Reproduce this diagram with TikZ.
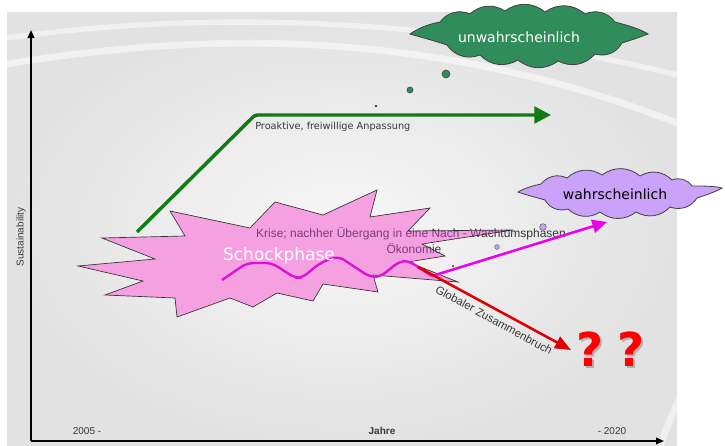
\documentclass[tikz,border=0pt]{standalone}
\usepackage{fontspec}
\setmainfont{Liberation Sans}
\newfontfamily\softsans{DejaVu Sans}
\usetikzlibrary{arrows.meta}

\definecolor{bggray}{RGB}{226,226,226}
\definecolor{arrowgreen}{RGB}{18,122,18}
\definecolor{cloudgreen}{RGB}{48,140,90}
\definecolor{cloudlav}{RGB}{202,162,250}
\definecolor{burstpink}{RGB}{245,160,225}
\definecolor{wavemag}{RGB}{220,20,210}
\definecolor{arrowmag}{RGB}{235,0,235}
\definecolor{arrowred}{RGB}{222,0,0}
\definecolor{labelgray}{RGB}{55,55,55}
\definecolor{labelpurple}{RGB}{125,60,125}

\begin{document}
\begin{tikzpicture}[x=0.75pt,y=-0.75pt,
  axisline/.style={line width=1.3pt,-{Triangle[length=6pt,width=5pt]}},
  axislabel/.style={text=labelgray,inner sep=0pt,font=\fontsize{7.5}{9}\selectfont},
  pathlabel/.style={text=labelgray,inner sep=0pt,font=\fontsize{8.5}{10}\selectfont},
  crisislabel/.style={inner sep=0pt,font=\fontsize{9}{10}\selectfont},
  cloudedge/.style={draw=black!75,line width=0.6pt},
  puff/.style={bend left=38},
  bubble/.style={circle,inner sep=0pt,line width=0.5pt},
  greenpath/.style={draw=arrowgreen,line width=2.6pt,rounded corners=2pt,
    -{Triangle[length=12.5pt,width=12.5pt]}},
  wavepath/.style={draw=wavemag,line width=1.8pt,rounded corners=5pt},
  magpath/.style={draw=arrowmag,line width=1.9pt,-{Triangle[length=11pt,width=10pt]}},
  redpath/.style={draw=arrowred,line width=1.9pt,-{Triangle[length=12pt,width=9.5pt]}},
  qmark/.style={inner sep=0pt,font=\softsans\bfseries\fontsize{35}{37}\selectfont}
]
\useasboundingbox (0,0) rectangle (725,446);

% backdrop
\fill[white] (0,0) rectangle (725,446);
\shade[inner color=white!97!black,outer color=bggray] (7,12) rectangle (677,446);
\begin{scope}
  \clip (7,12) rectangle (677,446);
  \draw[white,line width=5pt,opacity=0.55] (7,64) .. controls (250,24) and (470,40) .. (690,128);
  \draw[white,line width=4pt,opacity=0.5] (7,38) .. controls (220,8) and (460,20) .. (690,78);
  \draw[white,line width=5pt,opacity=0.5] (690,380) .. controls (675,405) and (668,425) .. (660,446);
\end{scope}

% axes
\coordinate (origin) at (31,441);
\coordinate (ytop) at (31,30);
\coordinate (xend) at (664,441);
\draw[axisline] (origin) -- (ytop);
\draw[axisline] (origin) -- (xend);
\node[axislabel,rotate=90] (ylab) at (21,237) {Sustainability};
\node[axislabel] (start) at (87,431) {2005 -};
\node[axislabel,font=\bfseries\fontsize{7.5}{9}\selectfont] (years) at (382,431) {Jahre};
\node[axislabel] (finish) at (612,431) {- 2020};

% proactive path
\coordinate (g0) at (137,232);
\coordinate (g1) at (255,115);
\coordinate (g2) at (551,115);
\draw[greenpath] (g0) -- (g1) -- (g2);
\node[text=labelgray,inner sep=0pt,font=\softsans\fontsize{7.3}{9}\selectfont,anchor=west] (proact) at (255,127) {Proaktive, freiwillige Anpassung};

% unlikely cloud with pointed ends, and its thought bubbles
\path[cloudedge,fill=cloudgreen] (410,34) .. controls (420,27) and (430,24) .. (440,22)
  to[puff] (470,14) to[puff] (505,11) to[puff] (545,12) to[puff] (585,14) to[puff] (615,22)
  .. controls (630,26) and (640,29) .. (648,34) .. controls (640,37) and (632,40) .. (622,43)
  to[puff] (595,54) to[puff] (558,61) to[puff] (518,60) to[puff] (480,55) to[puff] (447,45)
  .. controls (432,40) and (420,37) .. (410,34) -- cycle;
\node[text=white,font=\softsans\fontsize{10.5}{12}\selectfont] (unlikely) at (519,37) {unwahrscheinlich};
\node[bubble,draw=black!70,fill=cloudgreen,minimum size=6pt] (ub1) at (446,74) {};
\node[bubble,draw=black!70,fill=cloudgreen,minimum size=4.5pt] (ub2) at (410,90) {};
\node[bubble,fill=black!75,minimum size=2.2pt] (ub3) at (376,106) {};

% crisis description, partly covered by the burst
\node[crisislabel,text=labelgray] (crisis) at (411,234) {Krise; nachher Übergang in eine Nach - Wachtumsphasen};
\node[crisislabel,text=labelgray] (economy) at (414,249) {Ökonomie};

% shock burst
\def\burstoutline{(78,266) -- (155,259) -- (102,238) -- (185,236) -- (170,211)
  -- (250,228) -- (275,202) -- (323,215) -- (377,190) -- (370,217) -- (430,208)
  -- (408,231) -- (513,230) -- (422,244) -- (445,256) -- (408,262) -- (458,282)
  -- (373,275) -- (378,292) -- (323,284) -- (313,301) -- (277,293) -- (253,307)
  -- (230,298) -- (177,317) -- (175,298) -- (105,295) -- (143,281) -- cycle}
\fill[burstpink] \burstoutline;
\begin{scope}
  \clip \burstoutline;
  \node[crisislabel,text=labelpurple] (crisisin) at (411,234) {Krise; nachher Übergang in eine Nach - Wachtumsphasen};
  \node[crisislabel,text=labelpurple] (economyin) at (414,249) {Ökonomie};
\end{scope}
\draw[black!80,line width=0.5pt,line join=miter] \burstoutline;

% oscillating crisis line
\coordinate (w0) at (222,280);
\coordinate (w1) at (247,263);
\coordinate (w2) at (272,263);
\coordinate (w3) at (295,278);
\coordinate (w4) at (302,278);
\coordinate (w5) at (320,263);
\coordinate (w6) at (338,256);
\coordinate (w7) at (370,277);
\coordinate (w8) at (380,277);
\coordinate (w9) at (400,261);
\coordinate (w10) at (409,261);
\coordinate (w11) at (432,276);
\draw[wavepath] (w0) -- (w1) -- (w2) -- (w3) -- (w4) -- (w5) -- (w6) -- (w7) -- (w8) -- (w9) -- (w10) -- (w11);
\node[text=white,inner sep=0pt,font=\softsans\fontsize{12.75}{14}\selectfont] (shock) at (279,256) {Schockphase};

% likely path
\coordinate (m1) at (607,222);
\draw[magpath] (w11) -- (m1);

% collapse path
\coordinate (r0) at (418,267);
\coordinate (r1) at (571,350);
\draw[redpath] (r0) -- (r1);
\node[pathlabel,rotate=-28.5] (collapse) at (494,320) {Globaler Zusammenbruch};

% likely cloud with pointed ends, and its thought bubbles
\path[cloudedge,fill=cloudlav] (518,192) .. controls (525,188) and (532,186) .. (541,184)
  to[puff] (567,178) to[puff] (602,175) to[puff] (640,176) to[puff] (672,180) to[puff] (692,186)
  .. controls (704,186) and (714,186) .. (722,188) .. controls (715,192) and (706,195) .. (697,198)
  to[puff] (670,207) to[puff] (636,212) to[puff] (600,212) to[puff] (568,209) to[puff] (545,200)
  .. controls (535,197) and (526,195) .. (518,192) -- cycle;
\node[text=black,font=\softsans\fontsize{10.5}{12}\selectfont] (likely) at (615,194) {wahrscheinlich};
\node[bubble,draw=black!55,fill=cloudlav,minimum size=5pt] (lb1) at (543,227) {};
\node[bubble,draw=black!55,fill=cloudlav,minimum size=3.5pt] (lb2) at (497,247) {};
\node[bubble,fill=black!75,minimum size=1.8pt] (lb3) at (453,266) {};

% question marks with drop shadow
\node[qmark,text=black!30] (q1s) at (592,351) {?};
\node[qmark,text=red] (q1) at (590,349) {?};
\node[qmark,text=black!30] (q2s) at (633,351) {?};
\node[qmark,text=red] (q2) at (631,349) {?};
\end{tikzpicture}
\end{document}
